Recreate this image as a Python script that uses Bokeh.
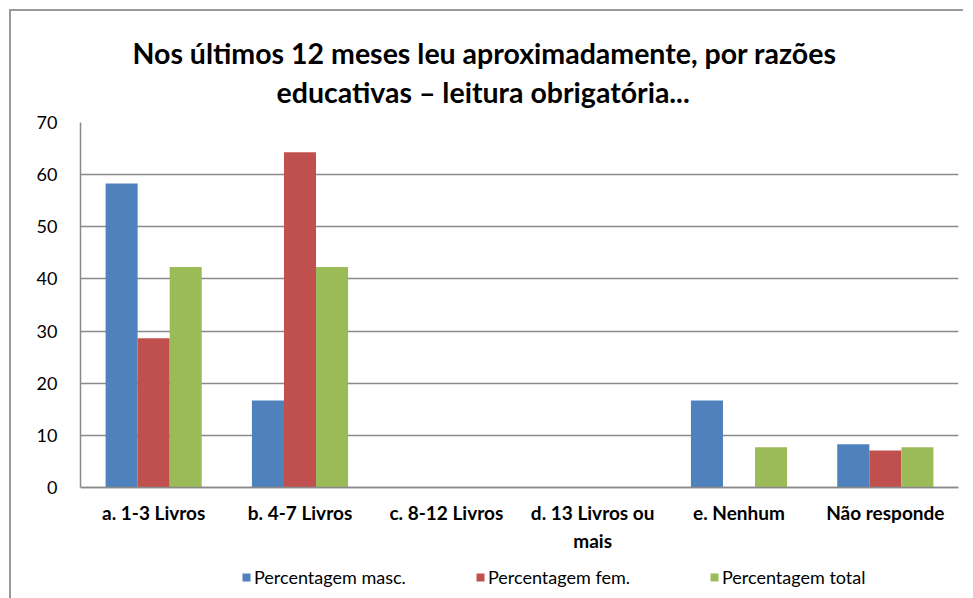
from bokeh.plotting import figure
from bokeh.models import ColumnDataSource, Title, Legend, LegendItem, FactorRange
from bokeh.transform import dodge
from bokeh.embed import file_html
from bokeh.resources import INLINE

categories = ["a. 1-3 Livros", "b. 4-7 Livros", "c. 8-12 Livros", "d. 13 Livros ou\nmais", "e. Nenhum", "Não responde"]
masc = [58.3, 16.7, 0, 0, 16.7, 8.3]
fem = [28.6, 64.3, 0, 0, 0, 7.1]
total = [42.3, 42.3, 0, 0, 7.7, 7.7]
series_names = ["Percentagem masc.", "Percentagem fem.", "Percentagem total"]
colors = ["#4F81BD", "#C0504D", "#9BBB59"]
y_ticks = [0, 10, 20, 30, 40, 50, 60, 70]
title_line1 = "Nos últimos 12 meses leu aproximadamente, por razões"
title_line2 = "educativas – leitura obrigatória..."

src = ColumnDataSource(dict(cat=categories, masc=masc, fem=fem, total=total))

FONT = "Lato"

# frame extends below zero so that the legend can sit inside it (70 units = 365 px)
p = figure(frame_width=878, frame_height=476, x_range=FactorRange(*categories), y_range=(-21.29, 70),
           output_backend="svg", toolbar_location=None,
           min_border_left=69, min_border_right=5, min_border_top=111, min_border_bottom=0)
p.outline_line_color = None
p.x_range.range_padding = 0
p.styles = {"margin-left": "9px", "margin-top": "9px",
            "border-left": "2px solid #999999", "border-top": "2px solid #999999"}

bw = 0.219
renderers = []
for key, off, col in zip(["masc", "fem", "total"], [-bw, 0, bw], colors):
    r = p.vbar(x=dodge("cat", off, range=p.x_range), top=key, width=bw, source=src,
               fill_color=col, line_color=None)
    renderers.append(r)

p.xgrid.grid_line_color = None
p.ygrid.grid_line_color = "#8a8a8a"
p.ygrid.grid_line_width = 1.5
p.yaxis.ticker = y_ticks
p.yaxis.bounds = (0, 70)
p.yaxis.axis_line_color = "#8a8a8a"
p.yaxis.axis_line_width = 1.5
p.yaxis.major_tick_line_color = None
p.yaxis.minor_tick_line_color = None
p.yaxis.major_label_text_font = FONT
p.yaxis.major_label_text_font_size = "18px"
p.yaxis.major_label_text_color = "#000000"
p.yaxis.major_label_standoff = 17

p.xaxis.fixed_location = 0
p.xaxis.axis_line_color = "#8a8a8a"
p.xaxis.axis_line_width = 1.5
p.xaxis.major_tick_line_color = None
p.xaxis.minor_tick_line_color = None
p.xaxis.major_label_text_font = FONT
p.xaxis.major_label_text_font_style = "bold"
p.xaxis.major_label_text_font_size = "19px"
p.xaxis.major_label_text_color = "#000000"
p.xaxis.major_label_standoff = 8
p.xaxis.major_label_text_line_height = 1.2

t2 = Title(text=title_line2, align="left", offset=196, text_font=FONT, text_font_size="28.5px",
           text_font_style="bold", text_color="#000000", standoff=28)
t1 = Title(text=title_line1, align="left", offset=52, text_font=FONT, text_font_size="28.5px",
           text_font_style="bold", text_color="#000000", standoff=-22)
p.add_layout(t2, "above")
p.add_layout(t1, "above")

legend = Legend(items=[LegendItem(label=n, renderers=[r]) for n, r in zip(series_names, renderers)],
                location=(161, 10), orientation="horizontal", glyph_width=10, glyph_height=10,
                label_standoff=3, label_width=221, spacing=0, label_text_font=FONT,
                label_text_font_size="18px", label_text_color="#000000",
                border_line_color=None, background_fill_alpha=0, margin=0, padding=0)
p.add_layout(legend, "center")

open("out.html", "w").write(file_html(p, INLINE))
